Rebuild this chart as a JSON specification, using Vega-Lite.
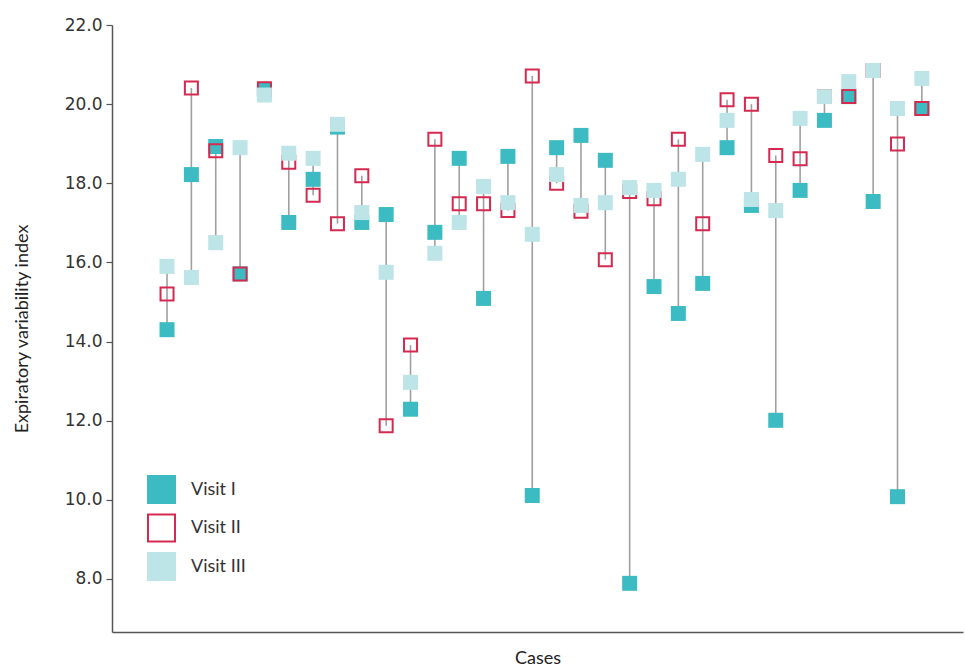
{
  "$schema": "https://vega.github.io/schema/vega-lite/v6.json",
  "width": 851,
  "height": 607,
  "autosize": {"type": "none"},
  "padding": {"left": 112, "top": 25, "right": 2, "bottom": 36},
  "background": "white",
  "config": {
    "view": {"stroke": null},
    "font": "Lato",
    "axis": {"grid": false}
  },
  "data": {
    "values": [
      {"case": 1, "visit": "Visit I", "value": 14.30}, {"case": 1, "visit": "Visit II", "value": 15.20}, {"case": 1, "visit": "Visit III", "value": 15.90},
      {"case": 2, "visit": "Visit I", "value": 18.22}, {"case": 2, "visit": "Visit II", "value": 20.41}, {"case": 2, "visit": "Visit III", "value": 15.62},
      {"case": 3, "visit": "Visit I", "value": 18.93}, {"case": 3, "visit": "Visit II", "value": 18.82}, {"case": 3, "visit": "Visit III", "value": 16.50},
      {"case": 4, "visit": "Visit I", "value": 15.71}, {"case": 4, "visit": "Visit II", "value": 15.71}, {"case": 4, "visit": "Visit III", "value": 18.90},
      {"case": 5, "visit": "Visit I", "value": 20.35}, {"case": 5, "visit": "Visit II", "value": 20.39}, {"case": 5, "visit": "Visit III", "value": 20.23},
      {"case": 6, "visit": "Visit I", "value": 17.01}, {"case": 6, "visit": "Visit II", "value": 18.53}, {"case": 6, "visit": "Visit III", "value": 18.76},
      {"case": 7, "visit": "Visit I", "value": 18.10}, {"case": 7, "visit": "Visit II", "value": 17.70}, {"case": 7, "visit": "Visit III", "value": 18.63},
      {"case": 8, "visit": "Visit I", "value": 19.42}, {"case": 8, "visit": "Visit II", "value": 16.98}, {"case": 8, "visit": "Visit III", "value": 19.49},
      {"case": 9, "visit": "Visit I", "value": 17.01}, {"case": 9, "visit": "Visit II", "value": 18.19}, {"case": 9, "visit": "Visit III", "value": 17.26},
      {"case": 10, "visit": "Visit I", "value": 17.21}, {"case": 10, "visit": "Visit II", "value": 11.87}, {"case": 10, "visit": "Visit III", "value": 15.75},
      {"case": 11, "visit": "Visit I", "value": 12.29}, {"case": 11, "visit": "Visit II", "value": 13.91}, {"case": 11, "visit": "Visit III", "value": 12.97},
      {"case": 12, "visit": "Visit I", "value": 16.76}, {"case": 12, "visit": "Visit II", "value": 19.11}, {"case": 12, "visit": "Visit III", "value": 16.23},
      {"case": 13, "visit": "Visit I", "value": 18.63}, {"case": 13, "visit": "Visit II", "value": 17.48}, {"case": 13, "visit": "Visit III", "value": 17.01},
      {"case": 14, "visit": "Visit I", "value": 15.09}, {"case": 14, "visit": "Visit II", "value": 17.48}, {"case": 14, "visit": "Visit III", "value": 17.92},
      {"case": 15, "visit": "Visit I", "value": 18.68}, {"case": 15, "visit": "Visit II", "value": 17.31}, {"case": 15, "visit": "Visit III", "value": 17.51},
      {"case": 16, "visit": "Visit I", "value": 10.11}, {"case": 16, "visit": "Visit II", "value": 20.71}, {"case": 16, "visit": "Visit III", "value": 16.71},
      {"case": 17, "visit": "Visit I", "value": 18.90}, {"case": 17, "visit": "Visit II", "value": 18.00}, {"case": 17, "visit": "Visit III", "value": 18.22},
      {"case": 18, "visit": "Visit I", "value": 19.21}, {"case": 18, "visit": "Visit II", "value": 17.29}, {"case": 18, "visit": "Visit III", "value": 17.44},
      {"case": 19, "visit": "Visit I", "value": 18.58}, {"case": 19, "visit": "Visit II", "value": 16.07}, {"case": 19, "visit": "Visit III", "value": 17.51},
      {"case": 20, "visit": "Visit I", "value": 7.89}, {"case": 20, "visit": "Visit II", "value": 17.79}, {"case": 20, "visit": "Visit III", "value": 17.89},
      {"case": 21, "visit": "Visit I", "value": 15.39}, {"case": 21, "visit": "Visit II", "value": 17.61}, {"case": 21, "visit": "Visit III", "value": 17.82},
      {"case": 22, "visit": "Visit I", "value": 14.71}, {"case": 22, "visit": "Visit II", "value": 19.11}, {"case": 22, "visit": "Visit III", "value": 18.10},
      {"case": 23, "visit": "Visit I", "value": 15.47}, {"case": 23, "visit": "Visit II", "value": 16.98}, {"case": 23, "visit": "Visit III", "value": 18.73},
      {"case": 24, "visit": "Visit I", "value": 18.90}, {"case": 24, "visit": "Visit II", "value": 20.11}, {"case": 24, "visit": "Visit III", "value": 19.59},
      {"case": 25, "visit": "Visit I", "value": 17.44}, {"case": 25, "visit": "Visit II", "value": 20.00}, {"case": 25, "visit": "Visit III", "value": 17.59},
      {"case": 26, "visit": "Visit I", "value": 12.01}, {"case": 26, "visit": "Visit II", "value": 18.70}, {"case": 26, "visit": "Visit III", "value": 17.31},
      {"case": 27, "visit": "Visit I", "value": 17.82}, {"case": 27, "visit": "Visit II", "value": 18.62}, {"case": 27, "visit": "Visit III", "value": 19.64},
      {"case": 28, "visit": "Visit I", "value": 19.59}, {"case": 28, "visit": "Visit II", "value": 20.19}, {"case": 28, "visit": "Visit III", "value": 20.19},
      {"case": 29, "visit": "Visit I", "value": 20.19}, {"case": 29, "visit": "Visit II", "value": 20.19}, {"case": 29, "visit": "Visit III", "value": 20.57},
      {"case": 30, "visit": "Visit I", "value": 17.54}, {"case": 30, "visit": "Visit II", "value": 20.85}, {"case": 30, "visit": "Visit III", "value": 20.85},
      {"case": 31, "visit": "Visit I", "value": 10.08}, {"case": 31, "visit": "Visit II", "value": 18.99}, {"case": 31, "visit": "Visit III", "value": 19.89},
      {"case": 32, "visit": "Visit I", "value": 19.89}, {"case": 32, "visit": "Visit II", "value": 19.89}, {"case": 32, "visit": "Visit III", "value": 20.65}
    ]
  },
  "encoding": {
    "x": {
      "field": "case", "type": "quantitative",
      "scale": {"domain": [-1.26, 33.69], "nice": false, "zero": false},
      "axis": {
        "title": "Cases", "labels": false, "ticks": false,
        "domainColor": "#555555", "domainWidth": 1.5,
        "titleFont": "Lato", "titleFontSize": 18, "titleFontWeight": "normal",
        "titleColor": "#222222", "titlePadding": 17
      }
    },
    "y": {
      "field": "value", "type": "quantitative",
      "scale": {"domain": [6.66, 22], "nice": false, "zero": false},
      "axis": {
        "title": "Expiratory variability index",
        "values": [8, 10, 12, 14, 16, 18, 20, 22], "format": ".1f",
        "labelFont": "DejaVu Sans", "labelFontSize": 17, "labelColor": "#333333",
        "labelPadding": 4, "tickSize": 6, "tickColor": "#555555", "tickWidth": 1.2,
        "domainColor": "#555555", "domainWidth": 1.5,
        "titleFont": "Lato", "titleFontSize": 18, "titleFontWeight": "normal",
        "titleColor": "#222222", "titlePadding": 33
      }
    }
  },
  "layer": [
    {
      "mark": {"type": "rule", "color": "#a0a0a0", "strokeWidth": 1.6},
      "encoding": {
        "y": {"aggregate": "min", "field": "value", "type": "quantitative"},
        "y2": {"aggregate": "max", "field": "value"}
      }
    },
    {
      "mark": {"type": "point", "shape": "square", "opacity": 1},
      "encoding": {
        "fill": {
          "field": "visit", "type": "nominal",
          "scale": {"domain": ["Visit I", "Visit II", "Visit III"], "range": ["#3cbcc2", "rgba(255,255,255,0)", "#bde4e6"]},
          "legend": {
            "title": null, "orient": "none", "legendX": 35, "legendY": 450,
            "symbolType": "square", "symbolSize": 729, "symbolStrokeWidth": 2,
            "labelFont": "Lato", "labelFontSize": 18, "labelColor": "#333333",
            "labelOffset": 15, "rowPadding": 3.5
          }
        },
        "stroke": {
          "field": "visit", "type": "nominal",
          "scale": {"domain": ["Visit I", "Visit II", "Visit III"], "range": ["#3cbcc2", "#d42a50", "#bde4e6"]},
          "legend": {
            "title": null, "orient": "none", "legendX": 35, "legendY": 450,
            "symbolType": "square", "symbolSize": 729, "symbolStrokeWidth": 2,
            "labelFont": "Lato", "labelFontSize": 18, "labelColor": "#333333",
            "labelOffset": 15, "rowPadding": 3.5
          }
        },
        "strokeWidth": {"condition": {"test": "datum.visit === 'Visit II'", "value": 2}, "value": 0},
        "size": {"condition": {"test": "datum.visit === 'Visit II'", "value": 169}, "value": 225}
      }
    }
  ]
}
